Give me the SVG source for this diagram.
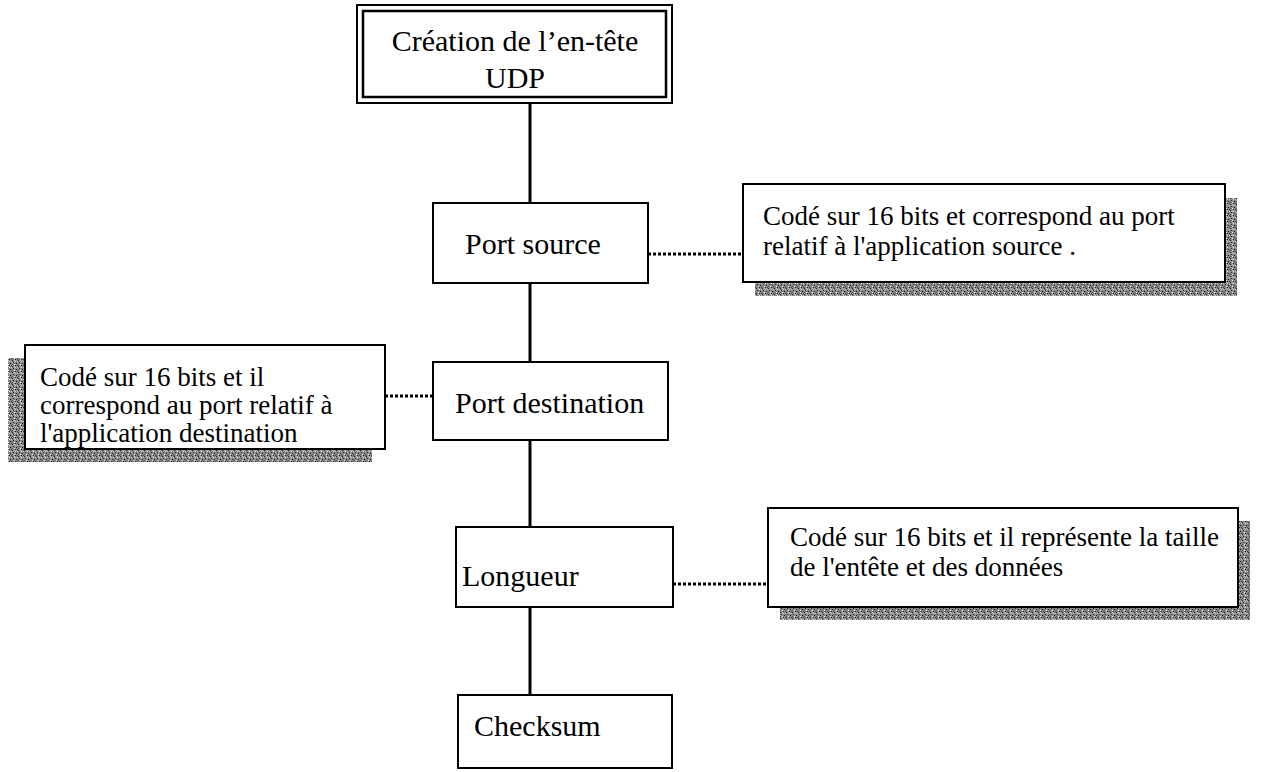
<svg xmlns="http://www.w3.org/2000/svg" width="1263" height="772" viewBox="0 0 1263 772">
<style>
.box{fill:#fff;stroke:#000;stroke-width:2}
.nt{font-family:"Liberation Serif","Times New Roman",serif;font-size:30px;fill:#000}
.ct{font-family:"Liberation Serif","Times New Roman",serif;font-size:27px;fill:#000}
.conn{stroke:#000;stroke-width:3;fill:none}
.dot{stroke:#000;stroke-width:3;stroke-dasharray:3 2;fill:none}
.shadow{fill:url(#stip);stroke:none}
</style>
<defs>
<pattern id="stip" width="6" height="6" patternUnits="userSpaceOnUse">
<rect width="6" height="6" fill="#8a8a8a"/>
<rect x="0" y="0" width="1" height="1" fill="#222"/>
<rect x="3" y="1" width="1" height="1" fill="#ddd"/>
<rect x="1" y="2" width="1" height="1" fill="#333"/>
<rect x="4" y="3" width="1" height="1" fill="#111"/>
<rect x="2" y="4" width="1" height="1" fill="#eee"/>
<rect x="5" y="5" width="1" height="1" fill="#444"/>
<rect x="0" y="4" width="1" height="1" fill="#555"/>
<rect x="5" y="1" width="1" height="1" fill="#bbb"/>
<rect x="2" y="0" width="1" height="1" fill="#c8c8c8"/>
<rect x="3" y="5" width="1" height="1" fill="#2a2a2a"/>
</pattern>
</defs>

<g id="connectors">
<line class="conn" x1="530" y1="103" x2="530" y2="203"/>
<line class="conn" x1="530" y1="283" x2="530" y2="362"/>
<line class="conn" x1="530" y1="440" x2="530" y2="527"/>
<line class="conn" x1="530" y1="607" x2="530" y2="695"/>
<line class="dot" x1="648" y1="254" x2="743" y2="254"/>
<line class="dot" x1="385" y1="396" x2="433" y2="396"/>
<line class="dot" x1="673" y1="584" x2="768" y2="584"/>
</g>

<g id="udp-header">
<rect x="357" y="5" width="315" height="98" fill="#fff" stroke="#000" stroke-width="2"/>
<rect x="363" y="11" width="303" height="86" fill="none" stroke="#000" stroke-width="2.5"/>
<text class="nt" x="515" y="51" text-anchor="middle" font-size="29">Création de l’en-tête</text>
<text class="nt" x="515" y="88" text-anchor="middle" font-size="29">UDP</text>
</g>

<g id="port-source">
<rect class="box" x="433" y="203" width="215" height="80"/>
<text class="nt" x="533" y="254" text-anchor="middle" font-size="29">Port source</text>
</g>

<g id="note-port-source">
<rect class="shadow" x="755" y="198" width="482" height="98"/>
<rect class="box" x="743" y="184" width="482" height="98"/>
<text class="ct" x="763" y="225" font-size="29.5">Codé sur 16 bits et correspond au port</text>
<text class="ct" x="763" y="255" font-size="29.5">relatif à l'application source .</text>
</g>

<g id="port-destination">
<rect class="box" x="433" y="362" width="235" height="78"/>
<text class="nt" x="455" y="413" font-size="32">Port destination</text>
</g>

<g id="note-port-destination">
<rect class="shadow" x="8" y="358" width="364" height="104"/>
<rect class="box" x="25" y="345" width="360" height="104"/>
<text class="ct" x="40" y="386">Codé sur 16 bits et il</text>
<text class="ct" x="40" y="414">correspond au port relatif à</text>
<text class="ct" x="40" y="442">l'application destination</text>
</g>

<g id="longueur">
<rect class="box" x="456" y="527" width="217" height="80"/>
<text class="nt" x="462" y="586">Longueur</text>
</g>

<g id="note-longueur">
<rect class="shadow" x="780" y="521" width="470" height="99"/>
<rect class="box" x="768" y="508" width="470" height="99"/>
<text class="ct" x="790" y="546">Codé sur 16 bits et il représente la taille</text>
<text class="ct" x="790" y="576">de l'entête et des données</text>
</g>

<g id="checksum">
<rect class="box" x="458" y="695" width="214" height="73"/>
<text class="nt" x="474" y="736" font-size="27">Checksum</text>
</g>
</svg>
